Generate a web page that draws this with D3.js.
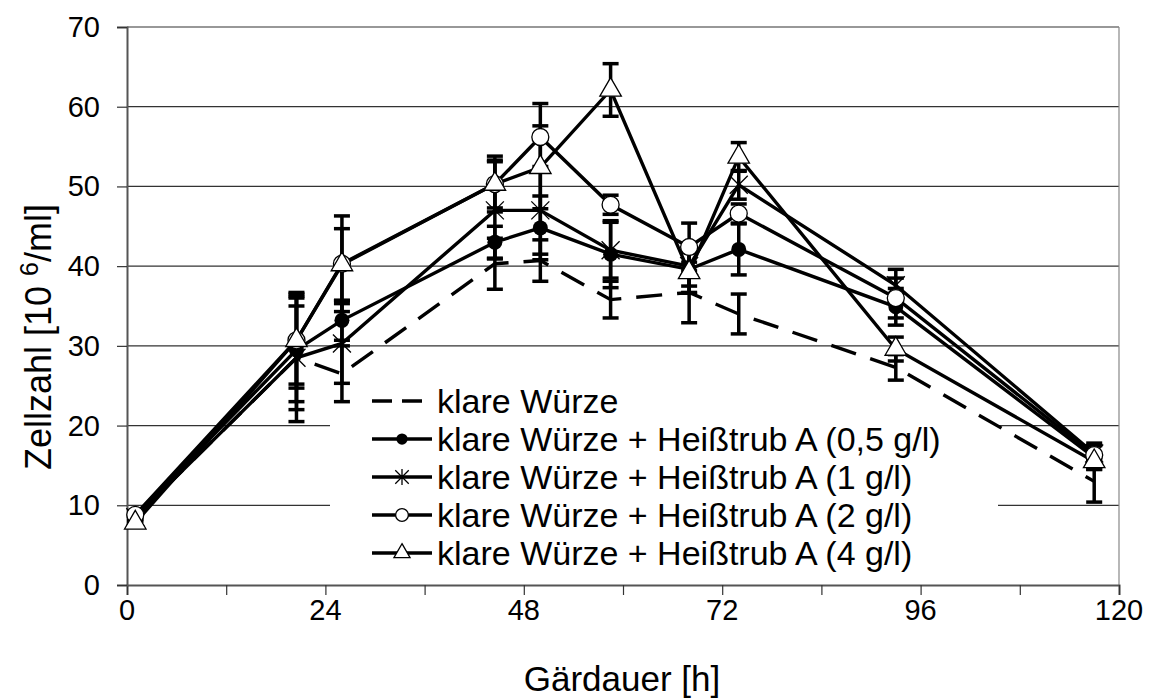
<!DOCTYPE html>
<meta charset="utf-8">
<script src="https://d3js.org/d3.v7.min.js"></script>
<style>
body { margin:0; background:#fff; }
text { font-family: "Liberation Sans", Arial, sans-serif; fill:#000; }
</style>
<body>
</body>
<script>

// sampling times [h]
var hours = [1, 20.5, 26, 44.5, 50, 58.5, 68, 74, 93, 117];

var seriesNames = [
  "klare Würze",
  "klare Würze + Heißtrub A (0,5 g/l)",
  "klare Würze + Heißtrub A (1 g/l)",
  "klare Würze + Heißtrub A (2 g/l)",
  "klare Würze + Heißtrub A (4 g/l)"
];
var seriesMarkers = ["none", "dot", "star", "circle", "triangle"];

var klar     = [8.5, 28.5, 26.5, 40.3, 40.7, 35.8, 36.7, 34.0, 27.3, 13.0];
var klarErr  = [0.5, 8.0, 3.5, 3.2, 2.6, 2.3, 3.8, 2.5, 1.6, 2.6];
var ht05     = [8.8, 29.5, 33.2, 43.0, 44.8, 41.5, 39.6, 42.1, 34.9, 16.0];
var ht05Err  = [0.5, 6.5, 2.5, 2.0, 4.0, 4.2, 3.0, 3.2, 2.3, 1.5];
var ht1      = [8.5, 28.5, 30.3, 47.0, 47.0, 42.0, 40.0, 50.2, 37.6, 16.5];
var ht1Err   = [0.5, 6.5, 5.0, 6.1, 5.5, 3.5, 2.5, 1.8, 2.0, 1.0];
var ht2      = [8.8, 30.7, 40.3, 50.3, 56.2, 47.7, 42.4, 46.6, 36.0, 16.3];
var ht2Err   = [0.5, 6.0, 6.0, 3.5, 4.2, 1.2, 3.0, 1.2, 2.5, 1.5];
var ht4      = [7.8, 30.7, 40.2, 50.3, 52.4, 62.1, 39.2, 53.7, 29.6, 15.5];
var ht4Err   = [0.4, 5.5, 4.5, 3.0, 5.2, 3.3, 2.5, 1.8, 1.5, 1.0];

var xTicks = [0, 24, 48, 72, 96, 120];
var xMinor = [12, 36, 60, 84, 108];
var yTicks = [0, 10, 20, 30, 40, 50, 60, 70];

var values = [klar, ht05, ht1, ht2, ht4];
var errors = [klarErr, ht05Err, ht1Err, ht2Err, ht4Err];

var series = seriesNames.map(function(name, i) {
  return {
    name: name,
    marker: seriesMarkers[i],
    points: hours.map(function(h, j) { return {h: h, v: values[i][j], e: errors[i][j]}; })
  };
});

var W = 1154, H = 699;
var margin = {top: 27, right: 35, bottom: 114, left: 127};
var width = W - margin.left - margin.right,
    height = H - margin.top - margin.bottom;

var svg = d3.select('body').append('svg')
  .attr('width', W)
  .attr('height', H);

// layers: grid -> legend background -> axes/data -> legend entries
var gridLayer = svg.append('g').attr('transform', 'translate(' + margin.left + ',' + margin.top + ')');
var legendBg = svg.append('g');
var g = svg.append('g').attr('transform', 'translate(' + margin.left + ',' + margin.top + ')');
var lg = svg.append('g');

var x = d3.scaleLinear().domain([0, 120]).range([0, width]);
var y = d3.scaleLinear().domain([0, 70]).range([height, 0]);

// gridlines
gridLayer.selectAll('line.grid')
  .data(yTicks.filter(function(d) { return d > 0; }))
  .enter().append('line')
  .attr('class', 'grid')
  .attr('x1', 0).attr('x2', width)
  .attr('y1', function(d) { return y(d); })
  .attr('y2', function(d) { return y(d); })
  .attr('stroke', '#333')
  .attr('stroke-width', 1.2);

// right frame line
gridLayer.append('line')
  .attr('x1', width).attr('x2', width)
  .attr('y1', 0).attr('y2', height)
  .attr('stroke', '#888').attr('stroke-width', 1.2);

// legend background hides the gridlines behind it
legendBg.append('rect')
  .attr('x', 330).attr('y', 383).attr('width', 668).attr('height', 199)
  .attr('fill', '#fff');

// axes
var xAxis = d3.axisBottom(x).tickValues(xTicks.concat(xMinor)).tickSize(10).tickFormat('');
var gx = g.append('g').attr('transform', 'translate(0,' + height + ')').call(xAxis);
gx.select('.domain').attr('stroke', '#555').attr('stroke-width', 2);
gx.selectAll('.tick line').attr('stroke', '#333').attr('stroke-width', 1.2);

g.append('g').selectAll('text')
  .data(xTicks)
  .enter().append('text')
  .attr('x', function(d) { return x(d); })
  .attr('y', height + 35)
  .attr('text-anchor', 'middle')
  .style('font-size', '29px')
  .text(function(d) { return d; });

var yAxis = d3.axisLeft(y).tickValues(yTicks).tickSize(10).tickFormat('');
var gy = g.append('g').call(yAxis);
gy.select('.domain').attr('stroke', '#555').attr('stroke-width', 2);
gy.selectAll('.tick line').attr('stroke', '#333').attr('stroke-width', 1.2);

g.append('g').selectAll('text')
  .data(yTicks)
  .enter().append('text')
  .attr('x', -27)
  .attr('y', function(d) { return y(d) + 10; })
  .attr('text-anchor', 'end')
  .style('font-size', '29px')
  .text(function(d) { return d; });

// axis titles
svg.append('text')
  .attr('x', 622)
  .attr('y', 691)
  .attr('text-anchor', 'middle')
  .style('font-size', '35px')
  .text('Gärdauer [h]');

var yl = svg.append('text')
  .attr('transform', 'translate(51,337) rotate(-90)')
  .attr('text-anchor', 'middle')
  .style('font-size', '36px');
yl.append('tspan').text('Zellzahl [10  ');
yl.append('tspan').attr('dy', -13).style('font-size', '25px').text('6');
yl.append('tspan').attr('dy', 13).text('/ml]');

// error bars
var cap = 8;
series.forEach(function(s) {
  var eb = g.append('g').attr('stroke', '#000').attr('stroke-width', 3.5);
  eb.selectAll('.bar').data(s.points).enter().append('line')
    .attr('x1', function(d) { return x(d.h); }).attr('x2', function(d) { return x(d.h); })
    .attr('y1', function(d) { return y(d.v - d.e); }).attr('y2', function(d) { return y(d.v + d.e); });
  [-1, 1].forEach(function(sign) {
    eb.selectAll('.cap' + sign).data(s.points).enter().append('line')
      .attr('x1', function(d) { return x(d.h) - cap; }).attr('x2', function(d) { return x(d.h) + cap; })
      .attr('y1', function(d) { return y(d.v + sign * d.e); })
      .attr('y2', function(d) { return y(d.v + sign * d.e); });
  });
});

// lines
var line = d3.line().x(function(d) { return x(d.h); }).y(function(d) { return y(d.v); });

series.forEach(function(s) {
  g.append('path')
    .datum(s.points)
    .attr('d', line)
    .attr('fill', 'none')
    .attr('stroke', '#000')
    .attr('stroke-width', 3.4)
    .attr('stroke-dasharray', s.marker === 'none' ? '26,15' : null);
});

function drawMarker(sel, type, scale) {
  scale = scale || 1;
  if (type === 'dot') {
    sel.append('circle').attr('r', 7.5 * scale).attr('fill', '#000');
  } else if (type === 'circle') {
    sel.append('circle').attr('r', 8.5 * scale).attr('fill', '#fff').attr('stroke', '#000').attr('stroke-width', 1.3);
  } else if (type === 'triangle') {
    sel.append('path').attr('d', d3.symbol().type(d3.symbolTriangle).size(200 * scale * scale))
      .attr('fill', '#fff').attr('stroke', '#000').attr('stroke-width', 1.3);
  } else if (type === 'star') {
    var r = 9 * scale;
    sel.append('path')
      .attr('d', 'M' + (-r) + ',' + (-r) + 'L' + r + ',' + r + 'M' + (-r) + ',' + r + 'L' + r + ',' + (-r) + 'M0,' + (-r * 1.2) + 'L0,' + (r * 1.2))
      .attr('stroke', '#000').attr('stroke-width', 1.3).attr('fill', 'none');
  }
}

series.forEach(function(s) {
  if (s.marker === 'none') return;
  var m = g.selectAll('.m-' + s.marker).data(s.points).enter().append('g')
    .attr('transform', function(d) { return 'translate(' + x(d.h) + ',' + y(d.v) + ')'; });
  drawMarker(m, s.marker);
});

// legend entries
var rowY = [401, 439, 477, 515, 553];
series.forEach(function(s, i) {
  var row = lg.append('g').attr('transform', 'translate(0,' + rowY[i] + ')');
  row.append('line')
    .attr('x1', 372).attr('x2', 432)
    .attr('stroke', '#000').attr('stroke-width', 3.4)
    .attr('stroke-dasharray', s.marker === 'none' ? '20,10' : null);
  var mk = row.append('g').attr('transform', 'translate(402,0)');
  drawMarker(mk, s.marker, 0.75);
  row.append('text')
    .attr('x', 437).attr('y', 12)
    .style('font-size', '34px')
    .text(s.name);
});

</script>
